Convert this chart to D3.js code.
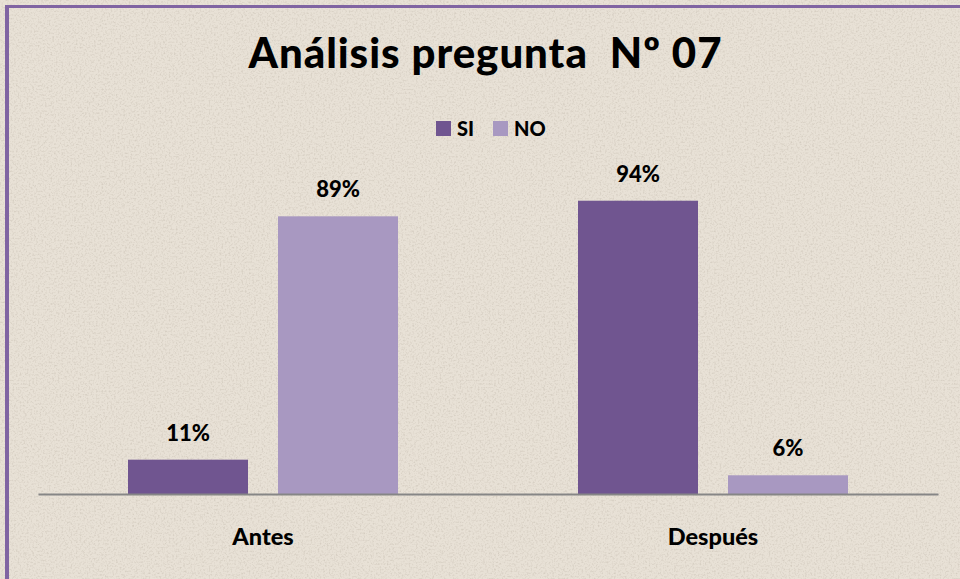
<!DOCTYPE html>
<html>
<head>
<meta charset="utf-8">
<script src="https://cdn.jsdelivr.net/npm/d3@7"></script>
<style>
  html, body { margin: 0; padding: 0; background: #e3dcd0; }
  svg { display: block; }
  text { font-family: Lato, "Open Sans", sans-serif; font-weight: 900; fill: #000; }
</style>
</head>
<body>
<svg id="chart" width="960" height="579"></svg>
<script>
// Survey question 7: share of "SI" / "NO" answers before and after
const categories = ["Antes", "Después"];
const seriesNames = ["SI", "NO"];
const siValues = [0.11, 0.94];
const noValues = [0.89, 0.06];
const seriesColors = ["#705590", "#a898c1"];
const titleText = "Análisis pregunta  Nº 07";

const W = 960, H = 579;
const svg = d3.select("#chart");

// Paper-like background with a fine speckle texture
const defs = svg.append("defs");
const f = defs.append("filter").attr("id", "paper")
  .attr("x", 0).attr("y", 0).attr("width", "100%").attr("height", "100%");
f.append("feTurbulence").attr("type", "fractalNoise")
  .attr("baseFrequency", 0.55).attr("numOctaves", 2).attr("seed", 7).attr("result", "noise");
f.append("feColorMatrix").attr("in", "noise").attr("type", "matrix")
  .attr("values", "0 0 0 0 0.45  0 0 0 0 0.40  0 0 0 0 0.33  0 0 0 -2.4 1.3");

svg.append("rect").attr("width", W).attr("height", H).attr("fill", "#e8e1d6");
svg.append("rect").attr("width", W).attr("height", H).attr("filter", "url(#paper)").attr("opacity", 0.35);

// Chart frame (top and left edges visible)
svg.append("rect").attr("x", 5).attr("y", 5).attr("width", 4).attr("height", H - 5).attr("fill", "#8064a2");
svg.append("rect").attr("x", 5).attr("y", 5).attr("width", W - 5).attr("height", 3).attr("fill", "#8064a2");

// Scales
const x0 = d3.scaleBand().domain(categories).range([38, 938]).paddingInner(0).paddingOuter(0);
const x1 = d3.scaleBand().domain(seriesNames).range([90, 360]).paddingInner(0.2).paddingOuter(0);
const y = d3.scaleLinear().domain([0, 1]).range([494, 182]);
const color = d3.scaleOrdinal().domain(seriesNames).range(seriesColors);

const rows = categories.map((c, i) => ({
  category: c,
  values: [
    { key: "SI", value: siValues[i] },
    { key: "NO", value: noValues[i] }
  ]
}));

// Bars
const groups = svg.append("g").selectAll("g").data(rows).join("g")
  .attr("transform", d => `translate(${x0(d.category)},0)`);

groups.selectAll("rect").data(d => d.values).join("rect")
  .attr("x", d => x1(d.key))
  .attr("y", d => y(d.value))
  .attr("width", x1.bandwidth())
  .attr("height", d => y(0) - y(d.value))
  .attr("fill", d => color(d.key));

// Value labels
const pct = d3.format(".0%");
groups.selectAll("text.val").data(d => d.values).join("text")
  .attr("class", "val")
  .attr("x", d => x1(d.key) + x1.bandwidth() / 2)
  .attr("y", d => y(d.value) - 19)
  .attr("text-anchor", "middle")
  .style("font-size", "22px")
  .text(d => pct(d.value));

// Category axis
const axis = svg.append("g").attr("transform", `translate(0,${y(0)})`)
  .call(d3.axisBottom(x0).tickSize(0).tickSizeOuter(0));
axis.select(".domain").attr("stroke", "#868686").attr("stroke-width", 2);
axis.selectAll(".tick text")
  .attr("y", 51).attr("dy", 0)
  .style("font-family", "Lato, 'Open Sans', sans-serif")
  .style("font-weight", 900)
  .style("font-size", "23.5px")
  .attr("fill", "#000");

// Title
svg.append("text")
  .attr("x", 485).attr("y", 68)
  .attr("text-anchor", "middle")
  .style("font-size", "42px")
  .attr("textLength", 473)
  .attr("lengthAdjust", "spacing")
  .attr("xml:space", "preserve")
  .text(titleText);

// Legend
const legend = svg.append("g").attr("transform", "translate(436,121)");
const legendPos = [0, 57];
seriesNames.forEach((s, i) => {
  const g = legend.append("g").attr("transform", `translate(${legendPos[i]},0)`);
  g.append("rect").attr("width", 15).attr("height", 15).attr("fill", color(s));
  g.append("text").attr("x", 21).attr("y", 15).style("font-size", "20px").text(s);
});
</script>
</body>
</html>
